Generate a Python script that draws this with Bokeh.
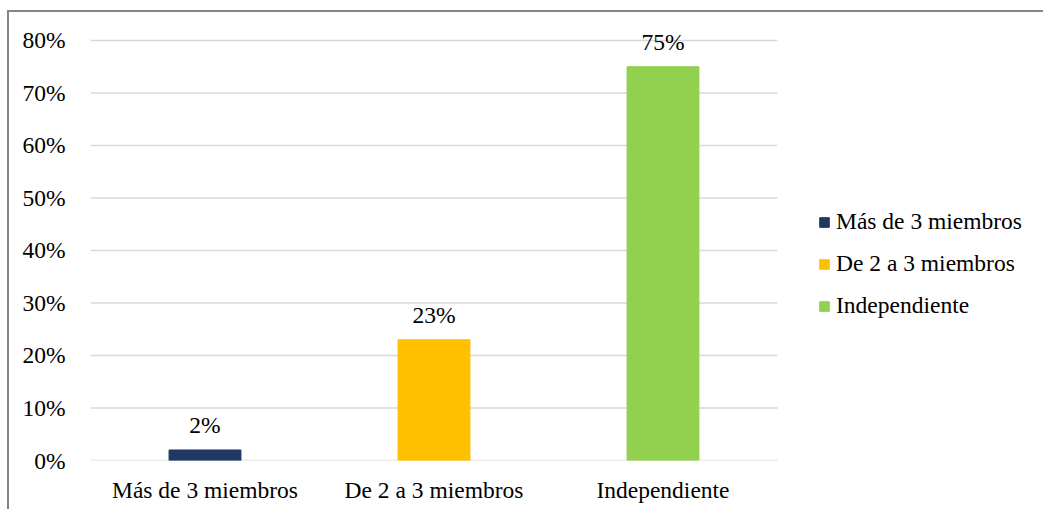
from bokeh.plotting import figure
from bokeh.models import (ColumnDataSource, Range1d, LabelSet, Legend, LegendItem,
                          FixedTicker, CustomJSTickFormatter)
from bokeh.core.properties import value
from bokeh.embed import file_html
from bokeh.resources import INLINE

# Data
categories = ["Más de 3 miembros", "De 2 a 3 miembros", "Independiente"]
values = [2, 23, 75]
colors = ["#203864", "#FFC000", "#92D050"]
y_ticks = [0, 10, 20, 30, 40, 50, 60, 70, 80]

FONT = "Liberation Serif"
FS = "23.5px"

# category slots sit at 0.5, 1.5, 2.5 on a numeric axis; the space to the
# right of the last slot holds the legend
n = len(categories)
centers = [i + 0.5 for i in range(n)]

source = ColumnDataSource(dict(
    x=centers,
    val=values,
    color=colors,
    label=[f"{v}%" for v in values],
))
grid = ColumnDataSource(dict(y=y_ticks, x0=[0] * len(y_ticks), x1=[n] * len(y_ticks)))

PLOT_W = 955   # frame width in px
SLOT_W = 229   # px per category slot

p = figure(
    x_range=Range1d(0, PLOT_W / SLOT_W),
    y_range=Range1d(0, 81.9),
    width=1036, height=499,
    output_backend="svg", toolbar_location=None,
    min_border_left=81, min_border_right=0,
    min_border_top=18, min_border_bottom=51,
)
p.styles = {
    "margin-left": "7px", "margin-top": "10px",
    "border-left": "2px solid #858585", "border-top": "2px solid #858585",
}

p.outline_line_color = None
p.background_fill_color = "white"
p.border_fill_color = "white"
p.xgrid.grid_line_color = None
p.ygrid.grid_line_color = None

# horizontal gridlines spanning the category slots only
p.segment(x0="x0", x1="x1", y0="y", y1="y", source=grid,
          line_color="#d9d9d9", line_width=1.5)

bars = p.vbar(x="x", top="val", width=0.314, color="color", source=source)

# Axes
p.yaxis.ticker = FixedTicker(ticks=y_ticks)
p.yaxis.formatter = CustomJSTickFormatter(code="return tick + '%';")
p.yaxis.axis_line_color = None
p.yaxis.major_tick_line_color = None
p.yaxis.minor_tick_line_color = None
p.yaxis.major_label_standoff = 19
p.yaxis.major_label_text_font = FONT
p.yaxis.major_label_text_font_size = FS
p.yaxis.major_label_text_color = "#000000"

p.xaxis.ticker = FixedTicker(ticks=centers)
p.xaxis.major_label_overrides = {c: name for c, name in zip(centers, categories)}
p.xaxis.axis_line_color = None
p.xaxis.major_tick_line_color = None
p.xaxis.minor_tick_line_color = None
p.xaxis.major_label_standoff = 10
p.xaxis.major_label_text_font = FONT
p.xaxis.major_label_text_font_size = FS
p.xaxis.major_label_text_color = "#000000"

# Value labels above bars
labels = LabelSet(x="x", y="val", text="label", source=source,
                  text_align="center", text_baseline="alphabetic",
                  y_offset=17, text_font=value(FONT), text_font_size=value(FS),
                  text_color="#000000")
p.add_layout(labels)

# Legend: one entry per bar
items = [LegendItem(label=c, renderers=[bars], index=i)
         for i, c in enumerate(categories)]
legend = Legend(items=items, location=(728, 141),
                glyph_width=12, glyph_height=12, label_standoff=6,
                label_text_font=FONT, label_text_font_size=FS,
                label_text_color="#000000", label_height=24, spacing=15,
                padding=0, margin=0, border_line_color=None,
                background_fill_alpha=0)
p.add_layout(legend)

open("out.html", "w").write(file_html(p, INLINE))
